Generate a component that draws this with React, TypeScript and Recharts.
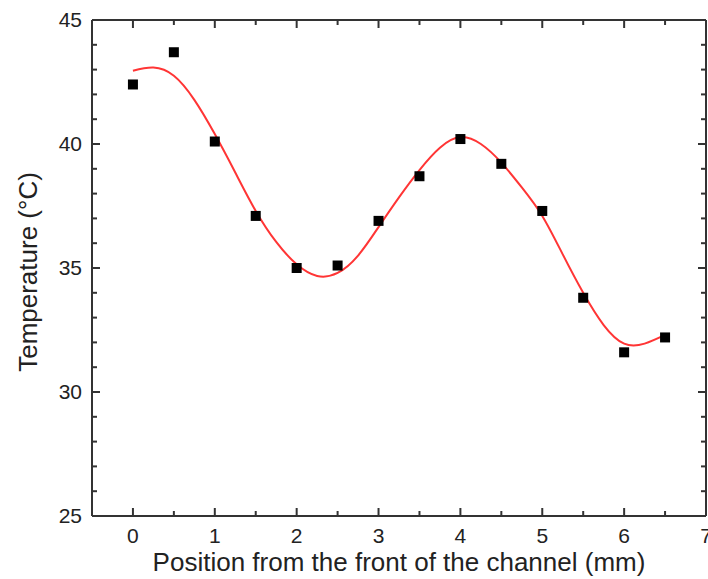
import {
  ComposedChart,
  Line,
  Scatter,
  XAxis,
  YAxis,
  Label,
} from "recharts";

// measured points
const positions = [0, 0.5, 1, 1.5, 2, 2.5, 3, 3.5, 4, 4.5, 5, 5.5, 6, 6.5];
const temperatures = [42.4, 43.7, 40.1, 37.1, 35.0, 35.1, 36.9, 38.7, 40.2, 39.2, 37.3, 33.8, 31.6, 32.2];

// fitted curve
const fitPositions = [
  0, 0.25, 0.5, 0.75, 1, 1.25, 1.5, 1.75, 2, 2.25, 2.5, 2.75, 3, 3.25,
  3.5, 3.75, 4, 4.25, 4.5, 4.75, 5, 5.25, 5.5, 5.75, 6, 6.25, 6.5,
];
const fitTemps = [
  42.95, 43.08, 42.75, 41.78, 40.4, 38.85, 37.3, 36.05, 35.15, 34.68, 34.8, 35.5, 36.65, 37.85,
  38.95, 39.85, 40.28, 40.0, 39.25, 38.25, 37.1, 35.55, 34.0, 32.7, 31.95, 31.95, 32.3,
];

const xTicks = [0, 0.5, 1, 1.5, 2, 2.5, 3, 3.5, 4, 4.5, 5, 5.5, 6, 6.5, 7];
const yTicks = [25, 26, 27, 28, 29, 30, 31, 32, 33, 34, 35, 36, 37, 38, 39, 40, 41, 42, 43, 44, 45];

const xTitle = "Position from the front of the channel (mm)";
const yTitle = "Temperature (°C)";

const pointData = positions.map((x, i) => ({ x, t: temperatures[i] }));
const fitData = fitPositions.map((x, i) => ({ x, t: fitTemps[i] }));

const AXIS = "#333";
const TEXT = "#222";
const FONT = "'Liberation Sans', Arial, sans-serif";

// ticks point inwards, minor ones shorter
const BottomTick = ({ x, y, payload }: any) => {
  const major = Number.isInteger(payload.value);
  return (
    <g>
      <line x1={x} y1={y} x2={x} y2={y - (major ? 8 : 5)} stroke={AXIS} strokeWidth={2} />
      {major && (
        <text x={x} y={y + 27} textAnchor="middle" fontSize={21} fill={TEXT} fontFamily={FONT}>
          {payload.value}
        </text>
      )}
    </g>
  );
};

const TopTick = ({ x, y, payload }: any) => {
  const major = Number.isInteger(payload.value);
  return <line x1={x} y1={y} x2={x} y2={y + (major ? 8 : 5)} stroke={AXIS} strokeWidth={2} />;
};

const LeftTick = ({ x, y, payload }: any) => {
  const major = payload.value % 5 === 0;
  return (
    <g>
      <line x1={x} y1={y} x2={x + (major ? 8 : 5)} y2={y} stroke={AXIS} strokeWidth={2} />
      {major && (
        <text x={x - 10} y={y + 7} textAnchor="end" fontSize={21} fill={TEXT} fontFamily={FONT}>
          {payload.value}
        </text>
      )}
    </g>
  );
};

const RightTick = ({ x, y, payload }: any) => {
  const major = payload.value % 5 === 0;
  return <line x1={x} y1={y} x2={x - (major ? 8 : 5)} y2={y} stroke={AXIS} strokeWidth={2} />;
};

const Square = ({ cx, cy }: any) => (
  <rect x={cx - 5} y={cy - 5} width={10} height={10} fill="#000" />
);

export default function App() {
  return (
    <div style={{ position: "absolute", left: 0, top: 0, background: "#fff" }}>
      <ComposedChart width={708} height={579} margin={{ top: 0, right: 0, bottom: 0, left: 0 }}>
        <XAxis
          xAxisId="bottom"
          dataKey="x"
          type="number"
          domain={[-0.5, 7]}
          ticks={xTicks}
          interval={0}
          allowDataOverflow
          height={63}
          tickSize={0}
          tickMargin={0}
          tick={<BottomTick />}
          axisLine={{ stroke: AXIS, strokeWidth: 2 }}
        >
          <Label
            content={({ viewBox }: any) => (
              <text
                x={viewBox.x + viewBox.width / 2}
                y={viewBox.y + 55}
                textAnchor="middle"
                fontSize={26}
                fill={TEXT}
                fontFamily={FONT}
              >
                {xTitle}
              </text>
            )}
          />
        </XAxis>
        <XAxis
          xAxisId="top"
          orientation="top"
          dataKey="x"
          type="number"
          domain={[-0.5, 7]}
          ticks={xTicks}
          interval={0}
          allowDataOverflow
          height={20}
          tickSize={0}
          tickMargin={0}
          tick={<TopTick />}
          axisLine={{ stroke: AXIS, strokeWidth: 2 }}
        />
        <YAxis
          yAxisId="left"
          dataKey="t"
          type="number"
          domain={[25, 45]}
          ticks={yTicks}
          interval={0}
          allowDataOverflow
          width={92}
          tickSize={0}
          tickMargin={0}
          tick={<LeftTick />}
          axisLine={{ stroke: AXIS, strokeWidth: 2 }}
        >
          <Label
            content={({ viewBox }: any) => {
              const cx = 37;
              const cy = viewBox.y + viewBox.height / 2 + 4;
              return (
                <text
                  x={cx}
                  y={cy}
                  transform={`rotate(-90, ${cx}, ${cy})`}
                  textAnchor="middle"
                  fontSize={26}
                  fill={TEXT}
                  fontFamily={FONT}
                >
                  {yTitle}
                </text>
              );
            }}
          />
        </YAxis>
        <YAxis
          yAxisId="right"
          orientation="right"
          dataKey="t"
          type="number"
          domain={[25, 45]}
          ticks={yTicks}
          interval={0}
          allowDataOverflow
          width={2}
          tickSize={0}
          tickMargin={0}
          tick={<RightTick />}
          axisLine={{ stroke: AXIS, strokeWidth: 2 }}
        />
        <Scatter
          xAxisId="bottom"
          yAxisId="left"
          data={pointData}
          dataKey="t"
          shape={<Square />}
          isAnimationActive={false}
        />
        <Line
          xAxisId="bottom"
          yAxisId="left"
          data={fitData}
          dataKey="t"
          type="natural"
          stroke="#ff3535"
          strokeWidth={2}
          dot={false}
          activeDot={false}
          isAnimationActive={false}
        />
      </ComposedChart>
    </div>
  );
}
